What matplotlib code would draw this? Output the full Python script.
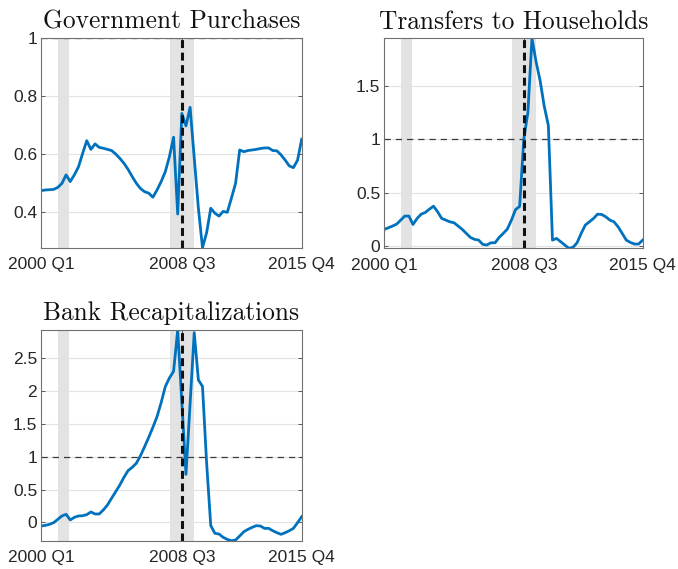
import numpy as np
import matplotlib
matplotlib.use('Agg')
from matplotlib import pyplot as plt

# quarterly data, 2000 Q1 .. 2015 Q4
tick_pos = [0, 34, 63]
tick_labels = ['2000 Q1', '2008 Q3', '2015 Q4']
recessions = [(4.1, 6.7), (31.05, 36.95)]
crisis_q = 34  # 2008 Q3

gov = [0.475, 0.477, 0.478, 0.479, 0.486, 0.500, 0.529, 0.506, 0.529, 0.557,
       0.603, 0.647, 0.617, 0.636, 0.624, 0.621, 0.617, 0.613, 0.601, 0.586,
       0.569, 0.548, 0.523, 0.500, 0.482, 0.471, 0.466, 0.452, 0.477, 0.506,
       0.540, 0.592, 0.659, 0.394, 0.741, 0.698, 0.762, 0.587, 0.415, 0.278,
       0.330, 0.414, 0.397, 0.387, 0.403, 0.400, 0.449, 0.500, 0.615, 0.609,
       0.613, 0.615, 0.617, 0.620, 0.622, 0.622, 0.613, 0.612, 0.598, 0.580,
       0.560, 0.554, 0.580, 0.652]

transfers = [0.154, 0.169, 0.185, 0.203, 0.241, 0.279, 0.279, 0.200, 0.257, 0.297,
             0.313, 0.344, 0.372, 0.319, 0.257, 0.241, 0.225, 0.216, 0.185, 0.154,
             0.116, 0.078, 0.060, 0.053, 0.013, 0.007, 0.028, 0.028, 0.078, 0.116,
             0.157, 0.241, 0.340, 0.370, 1.000, 1.250, 1.950, 1.730, 1.550, 1.310,
             1.130, 0.053, 0.069, 0.038, 0.007, -0.024, -0.015, 0.028, 0.116, 0.194,
             0.225, 0.256, 0.297, 0.294, 0.272, 0.241, 0.225, 0.178, 0.116, 0.053,
             0.031, 0.016, 0.016, 0.053]

bank = [-0.056, -0.046, -0.030, -0.005, 0.046, 0.097, 0.122, 0.036, 0.076, 0.097,
        0.100, 0.117, 0.158, 0.127, 0.127, 0.188, 0.264, 0.366, 0.467, 0.569,
        0.686, 0.788, 0.838, 0.900, 1.016, 1.153, 1.296, 1.448, 1.611, 1.824,
        2.068, 2.200, 2.300, 2.930, 1.830, 0.730, 1.810, 2.890, 2.170, 2.070,
        0.900, -0.050, -0.168, -0.178, -0.229, -0.260, -0.280, -0.270, -0.208, -0.143,
        -0.107, -0.077, -0.051, -0.056, -0.092, -0.092, -0.128, -0.158, -0.183, -0.158,
        -0.128, -0.092, -0.005, 0.086]

titles = ['Government Purchases', 'Transfers to Households', 'Bank Recapitalizations']
yticks = [[0.4, 0.6, 0.8, 1], [0, 0.5, 1, 1.5], [0, 0.5, 1, 1.5, 2, 2.5]]
series = [gov, transfers, bank]

plt.rcParams['font.family'] = ['Liberation Sans', 'DejaVu Sans']

fig = plt.figure(figsize=(6.78, 5.69), dpi=100)
W, H = 678, 569
boxes = [(41.3, 38.3, 260.4, 209.4),   # left, top, width, height in px
         (384.3, 38.3, 258.4, 210.0),
         (41.3, 330.0, 260.4, 210.7)]

for k in range(3):
    l, t, w, h = boxes[k]
    ax = fig.add_axes([l / W, 1 - (t + h) / H, w / W, h / H])
    ax.set_axisbelow(True)
    y = np.array(series[k])
    x = np.arange(len(y))
    for a, b in recessions:
        ax.axvspan(a, b, color='#e3e3e3', lw=0, zorder=0)
    ax.grid(axis='y', color='#e2e2e2', lw=0.8)
    ax.axhline(1, color='#3a3a3a', lw=0.9, ls=(0, (5, 4)), zorder=1)
    ax.axvline(crisis_q, color='#111111', lw=2.2, ls=(0, (2.6, 1.5)), zorder=3)
    ax.plot(x, y, color='#0072BD', lw=2, zorder=2, solid_joinstyle='round')
    ax.set_xlim(0, len(y) - 1)
    ax.set_ylim(min(y.min(), 1), max(y.max(), 1))
    ax.set_xticks(tick_pos)
    ax.set_xticklabels(tick_labels)
    ax.set_yticks(yticks[k])
    ax.set_yticklabels(['%g' % v for v in yticks[k]])
    ax.tick_params(axis='both', direction='in', length=3, width=0.6, color='#404040',
                   labelsize=12.5, labelcolor='#262626', top=True, right=True)
    ax.tick_params(axis='x', pad=7)
    ax.tick_params(axis='y', pad=3)
    for s in ax.spines.values():
        s.set_color('#707070')
        s.set_linewidth(0.8)
    ax.set_title(titles[k], fontfamily='cmr10', fontsize=18.3, pad=7, color='#111111')

fig.savefig('out.png', dpi=100)
